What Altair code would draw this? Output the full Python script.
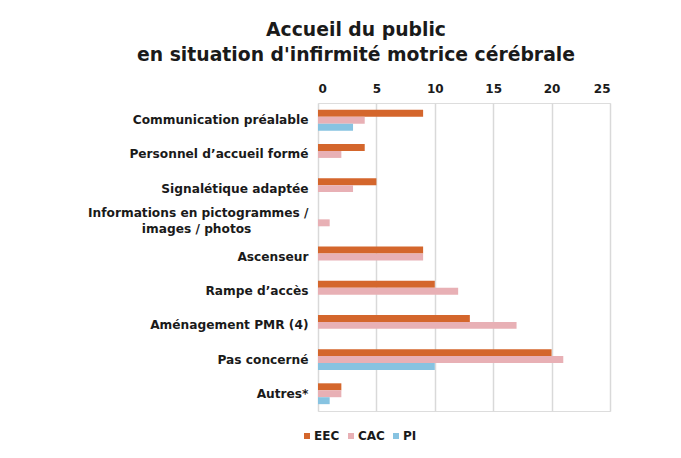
import altair as alt
import pandas as pd

PAD = "\u2800"
categories = [
    "Communication préalable",
    "Personnel d’accueil formé",
    "Signalétique adaptée",
    "Informations en pictogrammes /|images / photos" + PAD * 6,
    "Ascenseur",
    "Rampe d’accès",
    "Aménagement PMR (4)",
    "Pas concerné",
    "Autres*",
]
series = ["EEC", "CAC", "PI"]
eec = [9, 4, 5, 0, 9, 10, 13, 20, 2]
cac = [4, 2, 3, 1, 9, 12, 17, 21, 2]
pi = [3, 0, 0, 0, 0, 0, 0, 10, 1]
colors = ["#D4662C", "#E8B0B5", "#87C3E1"]

rows = []
for i, c in enumerate(categories):
    for s, vals in zip(series, [eec, cac, pi]):
        rows.append({"cat": c, "serie": s, "val": vals[i]})
df = pd.DataFrame(rows)

FONT = "DejaVu Sans"

chart = (
    alt.Chart(df)
    .mark_bar()
    .encode(
        y=alt.Y(
            "cat:N",
            sort=categories,
            scale=alt.Scale(paddingInner=0.39, paddingOuter=0.2),
            axis=alt.Axis(
                title=None,
                labelExpr="split(datum.label, '|')",
                labelFont=FONT,
                labelFontWeight="bold",
                labelFontSize=12.2,
                labelLineHeight=16,
                labelColor="#1a1a1a",
                labelPadding=10,
                labelOffset={"condition": {"test": "indexof(datum.value, '|') >= 0", "value": -10}, "value": 0},
                ticks=False,
                domain=False,
                labelLimit=300,
            ),
        ),
        yOffset=alt.YOffset("serie:N", sort=series, scale=alt.Scale(paddingInner=0, paddingOuter=0)),
        x=alt.X(
            "val:Q",
            scale=alt.Scale(domain=[0, 25], nice=False),
            axis=alt.Axis(
                title=None,
                orient="top",
                values=[0, 5, 10, 15, 20, 25],
                labelFont=FONT,
                labelFontWeight="bold",
                labelFontSize=12,
                labelColor="#1a1a1a",
                ticks=False,
                domain=False,
                grid=True,
                gridColor="#d9d9d9",
                gridWidth=1.5,
                labelPadding=8,
            ),
        ),
        color=alt.Color(
            "serie:N",
            sort=series,
            scale=alt.Scale(domain=series, range=colors),
            legend=alt.Legend(
                title=None,
                orient="none",
                direction="horizontal",
                legendX=-17,
                legendY=327,
                symbolType="square",
                symbolSize=36,
                symbolStrokeWidth=0,
                labelFont=FONT,
                labelFontWeight="bold",
                labelFontSize=12,
                labelColor="#1a1a1a",
                columnPadding=5,
                labelOffset=1,
            ),
        ),
    )
    .properties(
        width=292,
        height=308,
        padding={"left": 310, "top": 95, "right": 63, "bottom": 39},
        autosize=alt.AutoSizeParams(type="none"),
        title=alt.TitleParams(
            text=["Accueil du public", "en situation d'infirmité motrice cérébrale"],
            font=FONT,
            fontSize=18.8,
            fontWeight="bold",
            color="#1a1a1a",
            anchor="middle",
            dx=-108,
            offset=17,
            lineHeight=25,
        ),
    )
    .configure_view(stroke=None)
    .configure(background="white")
)

chart.save("out.html", embed_options={"renderer": "svg", "actions": False})
